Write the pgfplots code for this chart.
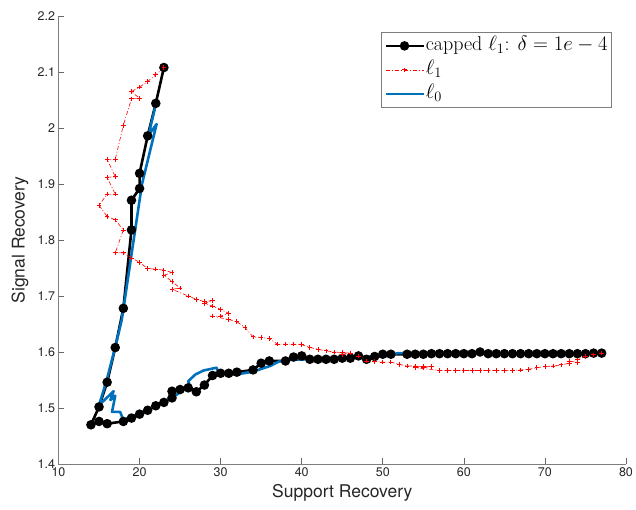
\documentclass[border=0pt]{standalone}
\usepackage{fontspec}
\usepackage{pgfplots}
\pgfplotsset{compat=1.18}
\newfontfamily\helv{TeX Gyre Heros}
\definecolor{mblue}{rgb}{0,0.447,0.741}
\definecolor{axgray}{rgb}{0.15,0.15,0.15}

\begin{document}
\begin{tikzpicture}
\begin{axis}[
    scale only axis,
    width=567.5pt, height=448pt,
    xmin=10, xmax=80, ymin=1.4, ymax=2.2,
    xtick={10,20,30,40,50,60,70,80},
    ytick={1.4,1.5,1.6,1.7,1.8,1.9,2,2.1,2.2},
    axis x line*=bottom, axis y line*=left,
    tick align=inside, major tick length=6pt,
    every tick/.style={axgray!70, line width=0.7pt},
    axis line style={axgray!60, line width=0.8pt},
    ticklabel style={font=\helv\fontsize{12.5}{15}\selectfont, text=axgray},
    /pgf/number format/assume math mode=true,
    xlabel={Support Recovery}, ylabel={Signal Recovery},
    label style={font=\helv\fontsize{17.5}{21}\selectfont, text=axgray},
    xlabel style={at={(axis description cs:0.5,-0.065)}, anchor=center},
    ylabel style={at={(axis description cs:-0.068,0.5)}, anchor=center},
    legend style={at={(0.9753,0.9643)}, anchor=north east,
        draw=axgray!60, line width=0.8pt,
        font=\fontsize{20}{24}\selectfont,
        inner sep=3pt, row sep=3pt,
        nodes={inner sep=1pt, text height=14pt, text depth=5pt},
        cells={anchor=west}},
    legend image code/.code={\draw[mark repeat=2, mark phase=2]
        plot coordinates {(0pt,0pt) (19pt,0pt) (38pt,0pt)};},
]

% capped l1
\addplot[black, line width=2.6pt, mark=*, mark size=3.4pt,
    mark options={solid, fill=black}] coordinates {
(23,2.108) (22,2.044) (21,1.986) (20,1.919) (20,1.892) (19,1.871)
(19,1.818) (18,1.678) (17,1.608) (16,1.546) (15,1.502) (14,1.470)
(15,1.476) (16,1.472) (18,1.476) (19,1.482) (20,1.489) (21,1.496)
(22,1.504) (23,1.510) (24,1.518) (24,1.530) (25,1.533) (26,1.536)
(27,1.529) (28,1.541) (29,1.558) (30,1.562) (31,1.562) (32,1.564)
(34,1.568) (35,1.580) (36,1.584) (38,1.584) (39,1.591) (40,1.593)
(41,1.587) (42,1.587) (43,1.587) (44,1.587) (45,1.589) (46,1.589)
(47,1.593) (48,1.587) (49,1.592) (50,1.596) (51,1.596) (53,1.596)
(54,1.596) (55,1.596) (56,1.597) (57,1.597) (58,1.597) (59,1.597)
(60,1.597) (61,1.597) (62,1.600) (63,1.597) (64,1.597) (65,1.597)
(66,1.597) (67,1.597) (68,1.597) (69,1.597) (70,1.597) (71,1.597)
(72,1.597) (73,1.597) (74,1.597) (75,1.597) (76,1.598) (77,1.598)
};
\addlegendentry{capped $\ell_1$: $\delta=1e-4$}

% l1
\addplot[red, line width=0.6pt, dash pattern=on 4pt off 2pt on 1pt off 2pt,
    mark=+, mark size=2.3pt, mark options={solid, red, line width=0.8pt}] coordinates {
(23,2.108) (22,2.095) (21,2.083) (20,2.073) (19,2.065) (20,2.053)
(19,2.052) (18,2.005) (17,1.944) (16,1.944) (17,1.913) (16,1.912)
(17,1.882) (16,1.882) (15,1.862) (16,1.842) (17,1.836) (18,1.818)
(17,1.777) (18,1.777) (19,1.768) (20,1.760) (21,1.749) (22,1.748)
(23,1.746) (24,1.742) (23,1.737) (24,1.726) (25,1.714) (24,1.712)
(26,1.700) (27,1.694) (28,1.690) (29,1.692) (28,1.687) (29,1.682)
(30,1.676) (31,1.669) (30,1.664) (29,1.664) (31,1.658) (32,1.654)
(33,1.644) (34,1.627) (35,1.626) (36,1.624) (37,1.614) (38,1.614)
(39,1.614) (40,1.613) (41,1.608) (42,1.605) (43,1.602) (44,1.600)
(45,1.599) (46,1.598) (45,1.596) (47,1.593) (48,1.584) (49,1.583)
(50,1.582) (51,1.582) (52,1.578) (53,1.575) (54,1.575) (55,1.574)
(56,1.574) (55,1.572) (54,1.572) (57,1.567) (58,1.567) (59,1.567)
(60,1.567) (61,1.567) (62,1.567) (63,1.567) (64,1.567) (65,1.567)
(66,1.567) (67,1.568) (68,1.569) (69,1.572) (70,1.574) (71,1.575)
(72,1.577) (73,1.580) (73,1.584) (74,1.581) (74,1.586) (75,1.592)
(76,1.595) (77,1.598)
};
\addlegendentry{$\ell_1$}

% l0
\addplot[mblue, line width=2.6pt, line join=round] coordinates {
(22.0,2.042) (21.1,1.987) (22.1,2.007) (20.3,1.900) (17.8,1.657)
(17.0,1.609) (15.95,1.550) (15.0,1.505) (16.8,1.530) (16.4,1.514)
(17.0,1.522) (16.6,1.493) (17.6,1.493) (18.0,1.479) (20.0,1.490)
(22.1,1.505) (24.2,1.520) (25.5,1.533) (26.2,1.540) (26.0,1.548)
(26.9,1.560) (27.9,1.567) (29.5,1.572) (29.7,1.564) (28.9,1.561)
(32.0,1.560) (34.0,1.565) (36.1,1.575) (37.2,1.583) (38.6,1.586)
(41.0,1.587) (44.75,1.589) (48.9,1.592) (50.9,1.593) (51.8,1.598)
(62.0,1.600) (63.3,1.598) (76.0,1.598)
};
\addlegendentry{$\ell_0$}

\end{axis}
\pgfresetboundingbox
\path (-58.5pt,-45pt) rectangle (577.5pt,464pt);
\end{tikzpicture}
\end{document}
